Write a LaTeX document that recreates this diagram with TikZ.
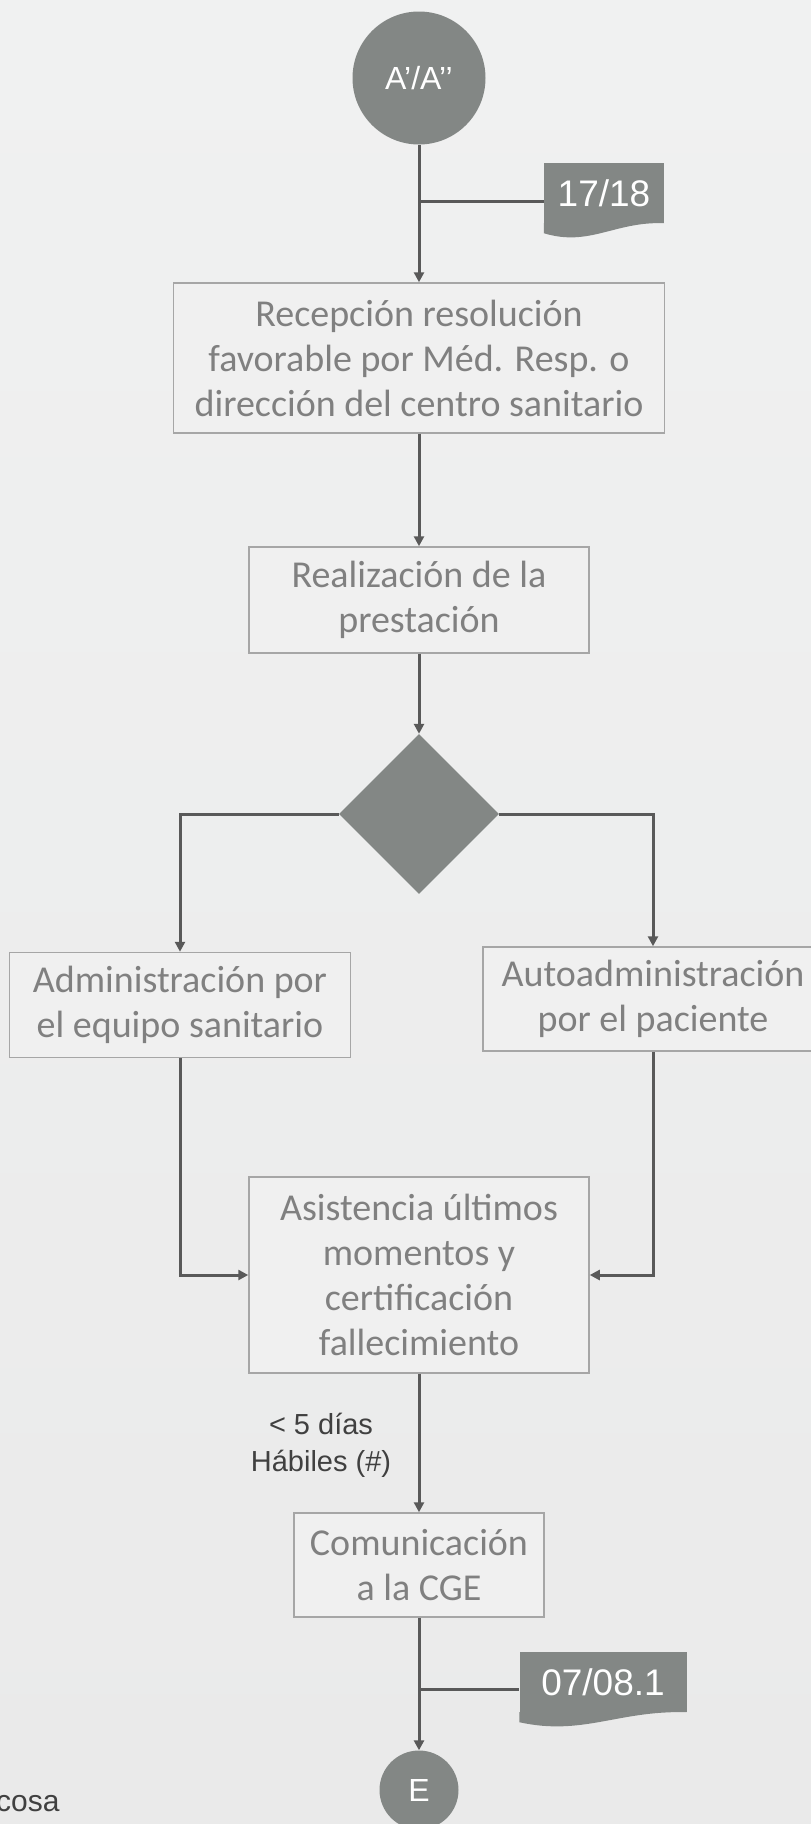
\documentclass[tikz,border=0pt]{standalone}
\usepackage{fontspec}
\setmainfont{Carlito}
\newfontfamily\arialfont{Liberation Sans}
\usetikzlibrary{arrows.meta,shapes.geometric,calc}

\definecolor{bgtop}{HTML}{F0F1F1}
\definecolor{bgmid}{HTML}{E1E1E1}
\definecolor{bgbot}{HTML}{EAEAEA}
\definecolor{boxfill}{HTML}{F0F0F0}
\definecolor{boxline}{HTML}{A6A6A6}
\definecolor{boxtext}{HTML}{808080}
\definecolor{markfill}{HTML}{838785}
\definecolor{flowline}{HTML}{595959}
\definecolor{notetext}{HTML}{404040}

\tikzset{
	box/.style={draw=boxline, line width=1.5pt, fill=boxfill, text=boxtext, align=center, inner sep=0pt, font=\fontsize{38}{45}\selectfont},
	conn/.style={fill=markfill, circle, inner sep=0pt, text=white, font=\arialfont\fontsize{32}{38}\selectfont},
	tagbox/.style={fill=markfill, inner sep=0pt, minimum width=#1, minimum height=60pt, text=white, font=\arialfont\fontsize{37}{44}\selectfont},
	flow/.style={draw=flowline, line width=3pt},
	>={Triangle[length=10pt,width=10pt]}
}

% wavy bottom of a document tag
\newcommand{\tagwave}[1]{%
	\fill[markfill] (#1.south east) .. controls ($(#1.south west)!.59!(#1.south east)+(0,-2)$) and ($(#1.south west)!.38!(#1.south east)+(0,24)$) .. ($(#1.south west)+(0,10)$) -- (#1.south west) -- cycle;}

\begin{document}
\begin{tikzpicture}[x=1pt, y=-1pt]
	
	\shade[top color=bgtop, middle color=bgmid, bottom color=bgbot] (0,0) rectangle (811,1824);
	\useasboundingbox (0,0) rectangle (811,1824);
	
	\node[conn, minimum size=133pt] (inicio) at (419,78) {A’/A’’};
	\node[tagbox=120pt] (doc1) at (604,193) {17/18};
	\tagwave{doc1}
	\node[box, minimum width=491pt, minimum height=150pt] (recepcion) at (419,358) {Recepción resolución\\favorable por Méd. Resp. o\\dirección del centro sanitario};
	\node[box, minimum width=340pt, minimum height=106pt] (realizacion) at (419,600) {Realización de la\\prestación};
	\node[diamond, fill=markfill, inner sep=0pt, minimum width=160pt, minimum height=160pt] (decision) at (419,814) {};
	\node[box, minimum width=341pt, minimum height=105pt] (equipo) at (180,1005) {Administración por\\el equipo sanitario};
	\node[box, minimum width=340pt, minimum height=104pt] (paciente) at (653,999) {Autoadministración\\por el paciente};
	\node[box, minimum width=340pt, minimum height=196pt] (asistencia) at (419,1275) {Asistencia últimos\\momentos y\\certificación\\fallecimiento};
	\node[font=\arialfont\fontsize{29}{37}\selectfont, text=notetext, align=center] (plazo) at (321,1445) {< 5 días\\Hábiles (\#)};
	\node[box, minimum width=250pt, minimum height=104pt] (comunicacion) at (419,1565) {Comunicación\\a la CGE};
	\node[tagbox=167pt] (doc2) at (603,1682) {07/08.1};
	\tagwave{doc2}
	\node[conn, minimum size=79pt] (fin) at (419,1790) {E};
	\node[font=\arialfont\fontsize{30}{36}\selectfont, text=notetext, anchor=west, inner sep=0pt] (cosa) at (-4,1804) {cosa};
	
	\coordinate (j1) at (419,201);
	\coordinate (j2) at (419,1689);
	
	\draw[flow, ->] (inicio) -- (recepcion);
	\draw[flow] (j1) -- (j1 -| doc1.west);
	\draw[flow, ->] (recepcion) -- (realizacion);
	\draw[flow, ->] (realizacion) -- (decision);
	\draw[flow, ->] (decision.west) -| (equipo);
	\draw[flow, ->] (decision.east) -| (paciente);
	\draw[flow, ->] (equipo) |- (asistencia);
	\draw[flow, ->] (paciente) |- (asistencia);
	\draw[flow, ->] (asistencia) -- (comunicacion);
	\draw[flow, ->] (comunicacion) -- (fin);
	\draw[flow] (j2) -- (j2 -| doc2.west);
	
\end{tikzpicture}
\end{document}
